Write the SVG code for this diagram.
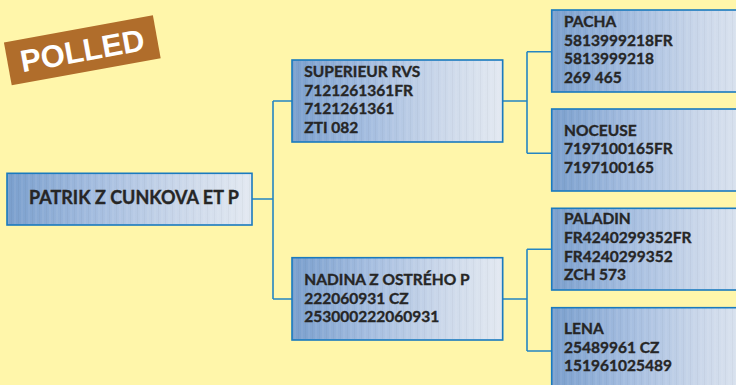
<svg xmlns="http://www.w3.org/2000/svg" width="736" height="385" viewBox="0 0 736 385">
<defs>
<linearGradient id="g" x1="0" y1="0" x2="1" y2="0">
<stop offset="0" stop-color="#7a9fcd"/>
<stop offset="0.35" stop-color="#a3bcdf"/>
<stop offset="0.7" stop-color="#cad7ea"/>
<stop offset="1" stop-color="#e3e9f1"/>
</linearGradient>
<pattern id="stripes" x="0" y="0" width="7" height="10" patternUnits="userSpaceOnUse">
<rect x="0" y="0" width="2" height="10" fill="#ffffff" fill-opacity="0.06"/>
<rect x="4" y="0" width="1" height="10" fill="#000000" fill-opacity="0.03"/>
</pattern>
<style>
.box{fill:url(#g);stroke:#1a7abf;stroke-width:1.6}
.str{fill:url(#stripes)}
.t{font-family:Lato,"Open Sans","Liberation Sans",sans-serif;font-weight:700;fill:#262626;stroke:#262626;stroke-width:0.35;font-size:15.5px}
.tm{font-size:18px}
.c{fill:none;stroke:#2585c2;stroke-width:1.6}
</style>
</defs>
<rect width="736" height="385" fill="#fff6aa"/>
<g id="polled" transform="translate(82.3 50.3) rotate(-10.3)">
<rect x="-75.7" y="-21.8" width="151.4" height="43.6" fill="#b06d2b"/>
<text x="0" y="11" text-anchor="middle" font-family="'Liberation Sans',Arial,sans-serif" font-weight="700" font-size="31" fill="#ffffff">POLLED</text>
</g>
<g id="connectors">
<path class="c" d="M252 199H273M273 101V299M273 101H292M273 299H292"/>
<path class="c" d="M503 101H527M527 51.7V153.3M527 51.7H552M527 153.3H552"/>
<path class="c" d="M503 299H527M527 249.3V351M527 249.3H552M527 351H552"/>
</g>
<g id="patrik">
<rect class="box" x="7" y="173.3" width="245" height="51.7"/>
<rect class="str" x="8" y="174" width="243" height="50"/>
<text class="t tm" x="29" y="204.3">PATRIK Z CUNKOVA ET P</text>
</g>
<g id="superieur">
<rect class="box" x="292" y="60" width="210.7" height="82"/>
<rect class="str" x="293" y="61" width="209" height="80"/>
<text class="t" x="304.3" y="76.7">SUPERIEUR RVS</text>
<text class="t" x="304.3" y="95.5">7121261361FR</text>
<text class="t" x="304.3" y="114.2">7121261361</text>
<text class="t" x="304.3" y="132.7">ZTI 082</text>
</g>
<g id="nadina">
<rect class="box" x="292" y="257.7" width="210.7" height="82.3"/>
<rect class="str" x="293" y="258.5" width="209" height="80.5"/>
<text class="t" x="304.3" y="285">NADINA Z OSTRÉHO P</text>
<text class="t" x="304.3" y="303.5">222060931 CZ</text>
<text class="t" x="304.3" y="322">253000222060931</text>
</g>
<g id="pacha">
<rect class="box" x="551.7" y="10" width="211" height="82"/>
<rect class="str" x="552.5" y="11" width="209" height="80"/>
<text class="t" x="564" y="26.7">PACHA</text>
<text class="t" x="564" y="45.5">5813999218FR</text>
<text class="t" x="564" y="64.2">5813999218</text>
<text class="t" x="564" y="82.7">269 465</text>
</g>
<g id="noceuse">
<rect class="box" x="551.7" y="109" width="211" height="82"/>
<rect class="str" x="552.5" y="110" width="209" height="80"/>
<text class="t" x="564" y="135.7">NOCEUSE</text>
<text class="t" x="564" y="154.2">7197100165FR</text>
<text class="t" x="564" y="172.7">7197100165</text>
</g>
<g id="paladin">
<rect class="box" x="551.7" y="208.3" width="211" height="81.7"/>
<rect class="str" x="552.5" y="209" width="209" height="80"/>
<text class="t" x="564" y="224.3">PALADIN</text>
<text class="t" x="564" y="243.2">FR4240299352FR</text>
<text class="t" x="564" y="261.8">FR4240299352</text>
<text class="t" x="564" y="280.3">ZCH 573</text>
</g>
<g id="lena">
<rect class="box" x="551.7" y="307.7" width="211" height="82"/>
<rect class="str" x="552.5" y="308.5" width="209" height="80"/>
<text class="t" x="564" y="334">LENA</text>
<text class="t" x="564" y="352.8">25489961 CZ</text>
<text class="t" x="564" y="371.3">151961025489</text>
</g>
</svg>
